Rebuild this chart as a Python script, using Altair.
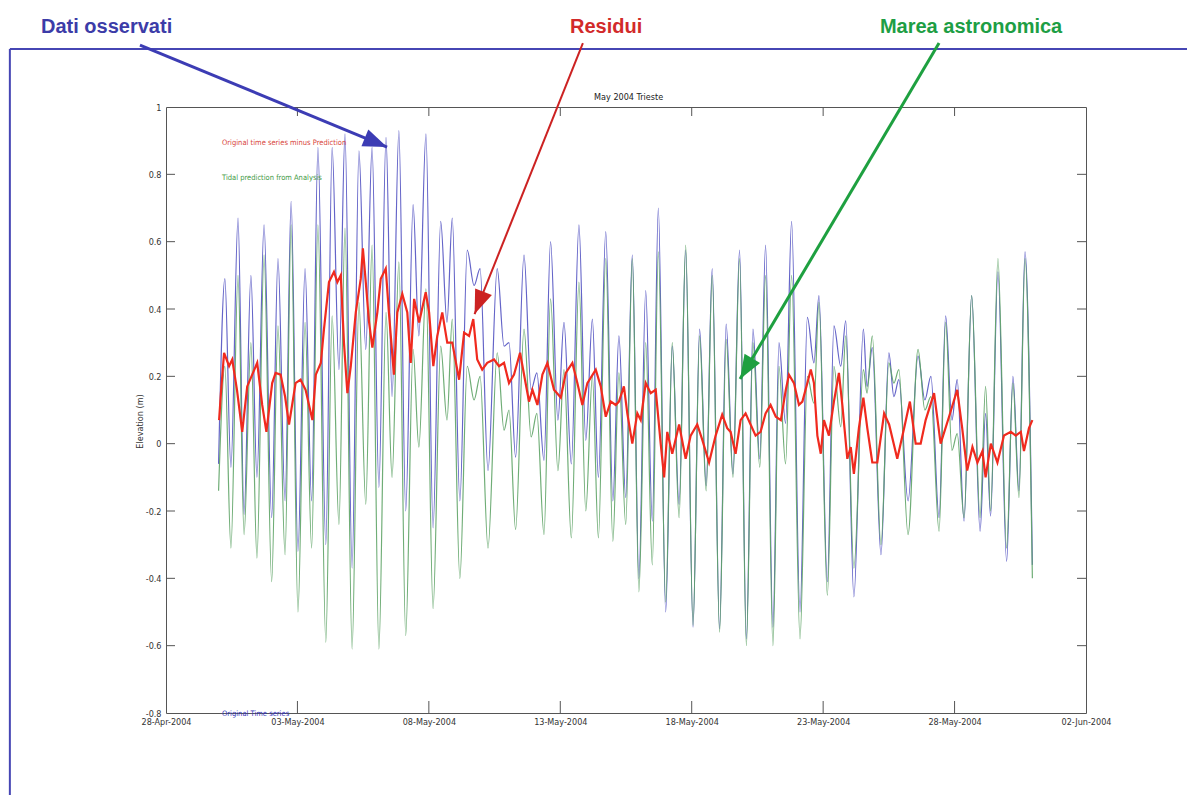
import altair as alt
import pandas as pd

# ---------------- data: time in days since 28-Apr-2004 00:00 ----------------
# tidal turning points (highs / lows) shared by observed and predicted series
tide_t = [2.00, 2.24, 2.47, 2.74, 2.97, 3.23, 3.46, 3.73, 4.02, 4.26,
          4.53, 4.76, 5.02, 5.29, 5.54, 5.78, 6.08, 6.32, 6.58, 6.81,
          7.08, 7.34, 7.60, 7.84, 8.10, 8.37, 8.60, 8.86, 9.12, 9.40,
          9.62, 9.89, 10.16, 10.45, 10.69, 10.89, 11.18, 11.46, 11.72, 11.95,
          12.25, 12.60, 12.86, 13.05, 13.30, 13.62, 13.89, 14.11, 14.38, 14.63,
          14.91, 15.14, 15.42, 15.71, 15.97, 16.22, 16.45, 16.73, 17.00, 17.23,
          17.49, 17.74, 17.99, 18.25, 18.50, 18.73, 19.01, 19.26, 19.52, 19.77,
          20.05, 20.30, 20.55, 20.78, 21.06, 21.31, 21.57, 21.82, 22.08, 22.33,
          22.59, 22.81, 23.09, 23.32, 23.57, 23.80, 24.12, 24.40, 24.65, 24.84,
          25.16, 25.41, 25.67, 25.86, 26.17, 26.53, 26.67, 26.87, 27.20, 27.50,
          27.69, 27.88, 28.23, 28.61, 28.87, 29.10, 29.41, 29.66, 29.90, 30.10,
          30.36, 30.65, 30.97, 31.18, 31.37, 31.65, 31.98, 32.22, 32.45, 32.68, 32.96]

pred_v = [-0.14, 0.23, -0.31, 0.50, -0.27, 0.30, -0.34, 0.56, -0.41, 0.35,
          -0.33, 0.65, -0.50, 0.36, -0.31, 0.65, -0.59, 0.38, -0.24, 0.64,
          -0.61, 0.42, -0.18, 0.59, -0.61, 0.39, -0.10, 0.54, -0.57, 0.28,
          -0.01, 0.46, -0.49, 0.29, 0.07, 0.37, -0.40, 0.23, 0.13, 0.20,
          -0.31, 0.27, 0.04, 0.10, -0.255, 0.34, 0.02, 0.09, -0.27, 0.43,
          -0.08, 0.22, -0.28, 0.48, -0.20, 0.20, -0.28, 0.55, -0.29, 0.21,
          -0.24, 0.55, -0.44, 0.30, -0.36, 0.57, -0.47, 0.30, -0.22, 0.59,
          -0.54, 0.32, -0.14, 0.50, -0.56, 0.31, -0.10, 0.55, -0.60, 0.30,
          -0.07, 0.50, -0.60, 0.23, -0.06, 0.50, -0.58, 0.20, 0.12, 0.42,
          -0.45, 0.23, 0.05, 0.32, -0.37, 0.22, 0.15, 0.32, -0.30, 0.24,
          0.18, 0.22, -0.27, 0.28, 0.10, 0.14, -0.26, 0.36, -0.02, 0.03,
          -0.22, 0.44, -0.22, 0.17, -0.20, 0.55, -0.31, 0.18, -0.16, 0.55, -0.40]

obs_v = [-0.06, 0.49, -0.07, 0.67, -0.21, 0.50, -0.10, 0.65, -0.22, 0.55,
         -0.17, 0.72, -0.32, 0.52, -0.17, 0.88, -0.30, 0.88, 0.22, 0.92,
         -0.37, 0.87, 0.28, 0.88, -0.13, 0.91, 0.14, 0.93, -0.20, 0.71,
         0.32, 0.92, -0.25, 0.66, 0.36, 0.67, -0.17, 0.575, 0.47, 0.52,
         -0.08, 0.52, 0.29, 0.30, -0.04, 0.56, 0.16, 0.21, -0.05, 0.60,
         0.07, 0.36, -0.06, 0.65, 0.01, 0.37, -0.10, 0.63, -0.17, 0.32,
         -0.16, 0.56, -0.40, 0.455, -0.23, 0.70, -0.50, 0.29, -0.18, 0.575,
         -0.545, 0.34, -0.125, 0.52, -0.55, 0.355, -0.09, 0.575, -0.58, 0.34,
         -0.045, 0.59, -0.545, 0.30, 0.06, 0.66, -0.50, 0.375, 0.24, 0.44,
         -0.41, 0.35, 0.23, 0.365, -0.455, 0.34, 0.17, 0.285, -0.33, 0.27,
         0.14, 0.19, -0.17, 0.26, 0.13, 0.20, -0.22, 0.38, 0.07, 0.19,
         -0.23, 0.44, -0.26, 0.09, -0.215, 0.51, -0.35, 0.20, -0.14, 0.57, -0.36]

# residual (observed minus prediction)
res_t = [2.02, 2.09, 2.21, 2.40, 2.52, 2.70, 2.90, 3.09, 3.28, 3.47,
         3.66, 3.82, 4.04, 4.17, 4.36, 4.53, 4.68, 4.93, 5.12, 5.31,
         5.57, 5.70, 5.89, 6.01, 6.20, 6.39, 6.52, 6.65, 6.77, 6.90,
         7.03, 7.22, 7.41, 7.49, 7.60, 7.72, 7.85, 8.04, 8.17, 8.36,
         8.48, 8.67, 8.80, 8.99, 9.18, 9.31, 9.44, 9.63, 9.88, 10.01,
         10.17, 10.32, 10.51, 10.70, 10.89, 11.15, 11.34, 11.53, 11.69, 11.84,
         12.03, 12.22, 12.48, 12.67, 12.86, 13.05, 13.24, 13.47, 13.68, 13.81,
         13.94, 14.13, 14.32, 14.51, 14.76, 15.02, 15.21, 15.46, 15.65, 15.84,
         16.03, 16.35, 16.54, 16.73, 16.92, 17.11, 17.23, 17.42, 17.55, 17.74,
         17.93, 18.06, 18.25, 18.44, 18.63, 18.82, 18.95, 19.07, 19.26, 19.52,
         19.77, 19.96, 20.21, 20.40, 20.66, 20.91, 21.16, 21.35, 21.48, 21.67,
         21.86, 22.05, 22.24, 22.43, 22.62, 22.81, 23.00, 23.20, 23.39, 23.58,
         23.70, 23.89, 24.08, 24.21, 24.40, 24.53, 24.65, 24.78, 24.91, 25.03,
         25.22, 25.41, 25.60, 25.73, 25.92, 26.05, 26.17, 26.36, 26.53, 26.68,
         26.87, 27.06, 27.32, 27.51, 27.82, 28.08, 28.30, 28.52, 28.71, 28.90,
         29.22, 29.47, 29.79, 30.10, 30.29, 30.48, 30.68, 30.87, 31.06, 31.18,
         31.38, 31.63, 31.88, 32.14, 32.33, 32.52, 32.64, 32.83, 32.96]

res_v = [0.07, 0.15, 0.27, 0.23, 0.25, 0.16, 0.035, 0.17, 0.205, 0.24,
         0.115, 0.035, 0.18, 0.21, 0.205, 0.14, 0.057, 0.18, 0.19, 0.16,
         0.07, 0.205, 0.24, 0.34, 0.48, 0.51, 0.48, 0.50, 0.30, 0.15,
         0.23, 0.39, 0.49, 0.58, 0.48, 0.365, 0.285, 0.39, 0.49, 0.52,
         0.39, 0.205, 0.39, 0.445, 0.39, 0.24, 0.43, 0.36, 0.45, 0.39,
         0.23, 0.32, 0.39, 0.30, 0.30, 0.19, 0.33, 0.32, 0.37, 0.25,
         0.22, 0.24, 0.25, 0.23, 0.24, 0.18, 0.205, 0.27, 0.18, 0.125,
         0.16, 0.115, 0.205, 0.24, 0.16, 0.137, 0.21, 0.24, 0.18, 0.115,
         0.18, 0.22, 0.17, 0.08, 0.125, 0.115, 0.125, 0.17, 0.09, 0.0,
         0.09, 0.07, 0.18, 0.15, 0.16, 0.0, -0.10, 0.035, -0.03, 0.057,
         -0.045, 0.024, 0.057, 0.012, -0.056, 0.024, 0.086, 0.046, 0.035, -0.03,
         0.07, 0.09, 0.057, 0.024, 0.035, 0.09, 0.115, 0.08, 0.07, 0.16,
         0.205, 0.18, 0.115, 0.125, 0.18, 0.22, 0.18, 0.024, -0.03, 0.07,
         0.024, 0.125, 0.21, 0.115, -0.045, -0.01, -0.09, 0.046, 0.137, 0.046,
         -0.056, -0.056, 0.09, 0.057, -0.045, 0.046, 0.125, 0.0, 0.0, 0.07,
         0.15, 0.0, 0.08, 0.16, 0.046, -0.08, -0.01, -0.056, -0.022, -0.10,
         0.0, -0.056, 0.024, 0.035, 0.024, 0.035, -0.022, 0.046, 0.07]

xtick_days = [0, 5, 10, 15, 20, 25, 30, 35]
xtick_labels = ["28-Apr-2004", "03-May-2004", "08-May-2004", "13-May-2004",
                "18-May-2004", "23-May-2004", "28-May-2004", "02-Jun-2004"]
ytick_vals = [-0.8, -0.6, -0.4, -0.2, 0, 0.2, 0.4, 0.6, 0.8, 1]

legend_labels = ["Original time series minus Prediction",
                 "Tidal prediction from Analysis", "Original Time series"]
legend_t = [2.13, 2.13, 2.13]
legend_v = [0.893, 0.789, -0.803]
legend_colors = ["#d8433a", "#3f9a45", "#3434b8"]

title_text = ["May 2004 Trieste"]
title_t = [17.6]
title_v = [1.021]

callout_labels = ["Dati osservati", "Residui", "Marea astronomica"]
callout_t = [-4.755, 15.37, 27.16]
callout_v = [1.22, 1.22, 1.22]
callout_colors = ["#3c3ca8", "#d22a2a", "#1d9e44"]

arrow_start_t = [-0.99, 15.86, 29.41]
arrow_start_v = [1.184, 1.19, 1.19]
arrow_tip_t = [8.41, 11.74, 21.84]
arrow_tip_v = [0.881, 0.385, 0.192]
arrow_angle = [22.4, 111.8, 120.6]
arrow_width = [3, 2, 3]
arrow_colors = ["#3c3cb4", "#cc2222", "#1ea040"]

frame_t = [-5.94, -5.94]
frame_v = [1.172, 1.172]
frame_t2 = [38.9, -5.94]
frame_v2 = [1.172, -1.06]

# ---------------- tables ----------------
obs_df = pd.DataFrame({"t": tide_t, "v": obs_v})
pred_df = pd.DataFrame({"t": tide_t, "v": pred_v})
res_df = pd.DataFrame({"t": res_t, "v": res_v})
legend_df = pd.DataFrame({"t": legend_t, "v": legend_v, "label": legend_labels, "color": legend_colors})
title_df = pd.DataFrame({"t": title_t, "v": title_v, "label": title_text})
callout_df = pd.DataFrame({"t": callout_t, "v": callout_v, "label": callout_labels, "color": callout_colors})
arrow_df = pd.DataFrame({"t": arrow_start_t, "v": arrow_start_v, "t2": arrow_tip_t, "v2": arrow_tip_v,
                         "ang": arrow_angle, "w": arrow_width, "color": arrow_colors})
frame_df = pd.DataFrame({"t": frame_t, "v": frame_v, "t2": frame_t2, "v2": frame_v2})
ytick_df = pd.DataFrame({"v": ytick_vals[1:-1]})
xtick_df = pd.DataFrame({"t": xtick_days[1:-1]})

W, H = 920, 606
FONT = "Liberation Sans Narrow, DejaVu Sans Condensed, Liberation Sans, Arial"
BOLD = "Liberation Sans, Arial"

xs = alt.Scale(domain=[0, 35], nice=False, zero=False)
ys = alt.Scale(domain=[-0.8, 1.0], nice=False, zero=False)

label_expr = "[" + ",".join("'%s'" % s for s in xtick_labels) + "][round(datum.value / 5)]"
x_axis = alt.Axis(values=xtick_days, labelExpr=label_expr, title=None, labelPadding=4,
                  labelFlush=False, labelOverlap=False, labelBound=False)
y_axis = alt.Axis(values=ytick_vals, labelExpr="toString(datum.value)", title="Elevation (m)",
                  labelPadding=5, titlePadding=1, titleY=314, labelFlush=False, labelOverlap=False)


def X(field="t"):
    return alt.X(field + ":Q", scale=xs, axis=x_axis)


def Y(field="v"):
    return alt.Y(field + ":Q", scale=ys, axis=y_axis)


obs_line = alt.Chart(obs_df).mark_line(color="#6464c8", strokeWidth=1.2, interpolate="monotone").encode(
    x=X(), y=Y())
pred_line = alt.Chart(pred_df).mark_line(color="#5fa467", strokeWidth=1.2, interpolate="monotone",
                                         opacity=0.9).encode(x=X(), y=Y())
res_line = alt.Chart(res_df).mark_line(color="#f02a1e", strokeWidth=2.2).encode(x=X(), y=Y())

tick_col = "#555555"
yl = alt.Chart(ytick_df).mark_rule(color=tick_col).encode(y=Y(), x=alt.value(0), x2=alt.value(9))
yr = alt.Chart(ytick_df).mark_rule(color=tick_col).encode(y=Y(), x=alt.value(W - 9), x2=alt.value(W))
xb = alt.Chart(xtick_df).mark_rule(color=tick_col).encode(x=X(), y=alt.value(H), y2=alt.value(H - 12))
xt = alt.Chart(xtick_df).mark_rule(color=tick_col).encode(x=X(), y=alt.value(0), y2=alt.value(9))

legend_txt = alt.Chart(legend_df).mark_text(align="left", baseline="middle", font=FONT, fontSize=7.5).encode(
    x=X(), y=Y(), text="label:N", color=alt.Color("color:N", scale=None))

title_txt = alt.Chart(title_df).mark_text(align="center", baseline="alphabetic", font=FONT, fontSize=9,
                                          color="#222222").encode(x=X(), y=Y(), text="label:N")

callout_txt = alt.Chart(callout_df).mark_text(align="left", baseline="alphabetic", font=BOLD,
                                              fontSize=20, fontWeight="bold").encode(
    x=X(), y=Y(), text="label:N", color=alt.Color("color:N", scale=None))

frame = alt.Chart(frame_df).mark_rule(color="#4646b4", strokeWidth=2).encode(
    x=X(), y=Y(), x2="t2:Q", y2="v2:Q")

arrow_lines = alt.Chart(arrow_df).mark_rule().encode(
    x=X(), y=Y(), x2="t2:Q", y2="v2:Q",
    color=alt.Color("color:N", scale=None), strokeWidth=alt.StrokeWidth("w:Q", scale=None))

arrow_heads = alt.Chart(arrow_df).mark_point(shape="M0,0L-2,-0.75L-2,0.75Z", filled=True, size=576,
                                             opacity=1, strokeWidth=0).encode(
    x=X("t2"), y=Y("v2"),
    angle=alt.Angle("ang:Q", scale=None), color=alt.Color("color:N", scale=None))

chart = alt.layer(
    obs_line, pred_line, res_line, yl, yr, xb, xt, legend_txt, title_txt,
    frame, arrow_lines, arrow_heads, callout_txt
).properties(
    width=W, height=H,
    autosize=alt.AutoSizeParams(type="none"),
    padding={"left": 166, "top": 107, "right": 101, "bottom": 82},
    background="white",
).configure_view(
    stroke="#555555", strokeWidth=1
).configure_axis(
    domain=False, ticks=False, grid=False,
    labelFont=FONT, labelFontSize=9, labelColor="#333333",
    titleFont=FONT, titleFontSize=9, titleColor="#333333", titleFontWeight="normal"
)

chart.save("out.html", embed_options={"renderer": "svg", "actions": False})
